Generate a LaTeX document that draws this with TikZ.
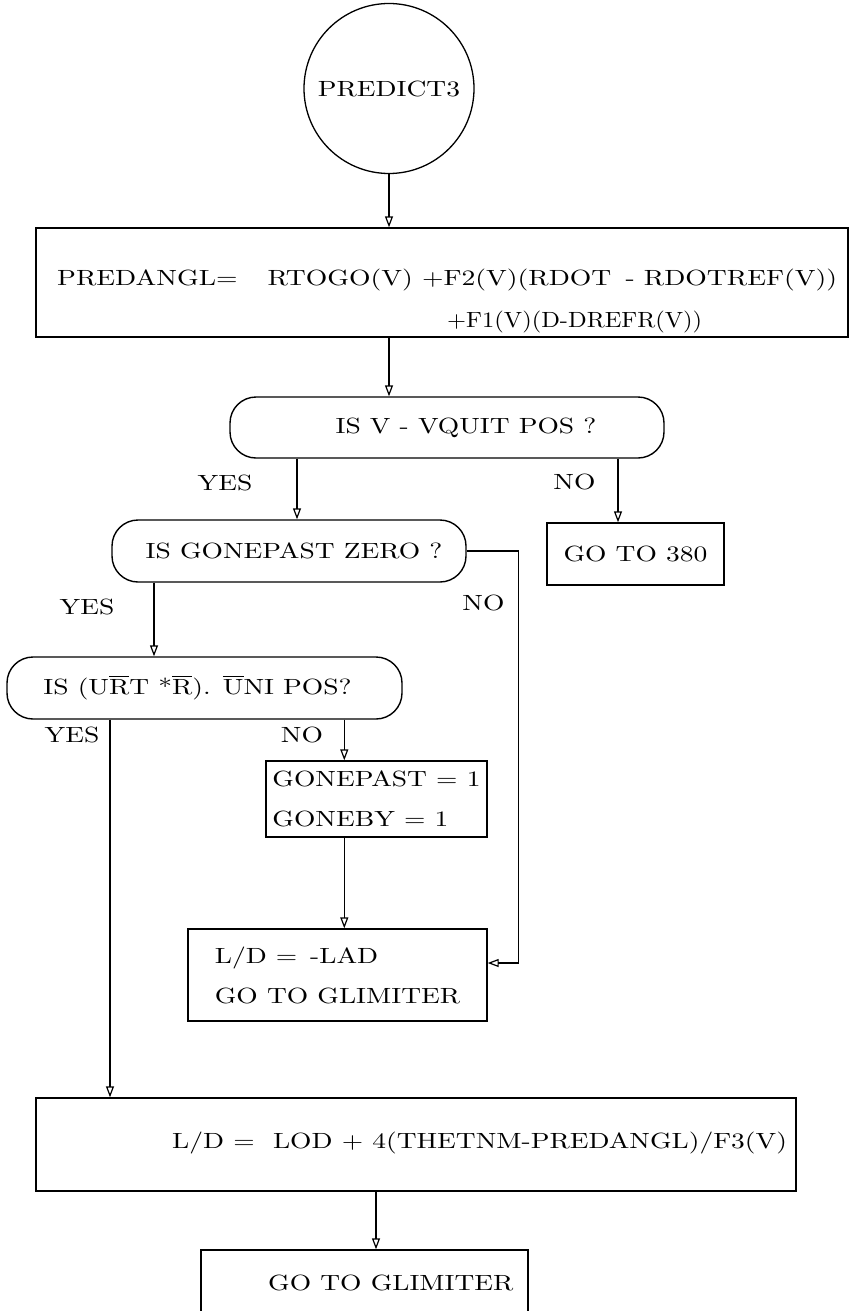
\documentclass[tikz,border=0pt]{standalone}
\usepackage{fontspec}
\setmainfont{lmroman10-regular.otf}[FakeStretch=1.25]
\usetikzlibrary{arrows.meta,calc}
\newcommand\fsz{\fontsize{22}{40}\selectfont}
\newcommand\ovl[1]{\setbox0\hbox{#1}\rlap{\raisebox{\dimexpr\ht0+2.5pt\relax}{\rule{\wd0}{1pt}}}\box0}
\tikzset{
  ln/.style={line width=1.2pt},
  arr/.style={ln,-{Triangle[open,length=11pt,width=8pt,line width=1.2pt]}},
  box/.style={draw,line width=1.4pt,inner sep=0pt},
  dec/.style={draw,line width=1.4pt,rounded corners=26pt,inner sep=0pt},
  txt/.style={inner sep=0pt,font=\fsz},
}
\begin{document}
\begin{tikzpicture}[x=1pt,y=-1pt,font=\fsz]
\useasboundingbox (0,0) rectangle (850,1311);
\clip (0,0) rectangle (850,1311);
% nodes
\node[draw,circle,line width=1.3pt,minimum size=170pt,inner sep=0pt] (start) at (389,88.5) {\raisebox{-3.5pt}{PREDICT3}};
\node[box,minimum width=812pt,minimum height=109pt] (box1) at (442,282.5) {};
\node[txt,anchor=base west] (p1) at (57,285) {\resizebox{780pt}{\height}{PREDANGL=\hspace{30pt}RTOGO(V) +F2(V)(RDOT\hspace{14pt}- RDOTREF(V))}};
\node[txt,anchor=base west] (p2) at (447,327) {\resizebox{255pt}{\height}{+F1(V)(D-DREFR(V))}};
\node[dec,minimum width=434pt,minimum height=61pt] (dec1) at (447,427.5) {\hspace*{38pt}\raisebox{-5pt}{IS V - VQUIT POS ?}};
\node[dec,minimum width=354pt,minimum height=62pt] (dec2) at (289,551) {\hspace*{10pt}\raisebox{-2pt}{IS GONEPAST ZERO ?}};
\node[box,minimum width=177pt,minimum height=62pt] (go380) at (635.5,554) {GO TO 380};
\node[dec,minimum width=395pt,minimum height=62pt] (dec3) at (204.5,688) {IS (U\ovl{R}T *\ovl{R}). \ovl{U}NI POS?\hspace*{14pt}};
\node[box,minimum width=221pt,minimum height=76pt,align=left] (gp) at (376.5,799) {GONEPAST = 1\\GONEBY = 1};
\node[box,minimum width=299pt,minimum height=92pt,align=left] (ld) at (337.5,975) {L/D = \,-LAD\\GO TO GLIMITER};
\node[box,minimum width=760pt,minimum height=93pt] (big) at (416,1144.5) {};
\node[txt,anchor=west] (bigt) at (172,1143) {L/D = \ LOD + 4(THETNM-PREDANGL)/F3(V)};
\node[box,minimum width=327pt,minimum height=140pt] (bot) at (364.5,1320) {};
\node[txt,anchor=west] (bott) at (268,1283) {GO TO GLIMITER};
% labels
\node[txt] (yes1) at (225,483) {YES};
\node[txt] (no1) at (574.5,482) {NO};
\node[txt] (yes2) at (87,607) {YES};
\node[txt] (no2) at (483.5,603) {NO};
\node[txt] (yes3) at (72,735) {YES};
\node[txt] (no3) at (302,735) {NO};
% connectors
\draw[arr] (start) -- (start |- box1.north);
\draw[arr] (box1.south -| start) -- (dec1.north -| start);
\draw[arr] ([xshift=8pt]dec2.north |- dec1.south) -- ([xshift=8pt]dec2.north);
\draw[arr] ([xshift=-17.5pt]go380.north |- dec1.south) -- ([xshift=-17.5pt]go380.north);
\draw[arr] ([xshift=-50.5pt]dec3.north |- dec2.south) -- ([xshift=-50.5pt]dec3.north);
\draw[arr] (dec2.east) -- ++(52,0) |- ([yshift=12pt]ld.east);
\draw[arr] ([xshift=-94.5pt]dec3.south) -- ([xshift=-94.5pt]dec3.south |- big.north);
\draw[arr] ([xshift=79pt]gp.north west |- dec3.south) -- ([xshift=79pt]gp.north west);
\draw[arr] ([xshift=79pt]gp.south west) -- ([xshift=79pt]gp.south west |- ld.north);
\draw[arr] ([xshift=11.5pt]bot.north |- big.south) -- ([xshift=11.5pt]bot.north);
\end{tikzpicture}
\end{document}
